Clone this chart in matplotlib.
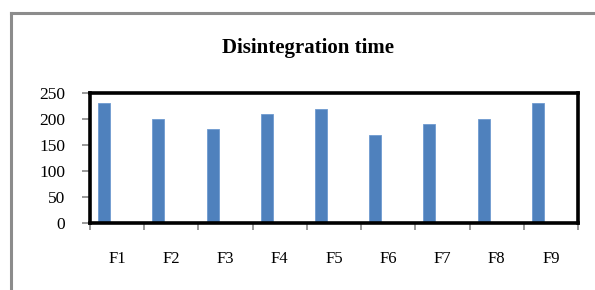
import matplotlib.pyplot as plt
import numpy as np

# formulations and their disintegration times
formulations = ['F1', 'F2', 'F3', 'F4', 'F5', 'F6', 'F7', 'F8', 'F9']
times = [230, 200, 180, 210, 220, 170, 190, 200, 230]
y_ticks = [0, 50, 100, 150, 200, 250]

plt.rcParams['font.family'] = ['Liberation Serif', 'DejaVu Serif']

fig = plt.figure(figsize=(5.95, 2.9), dpi=100)

# grey frame round the chart area (left and top edges are visible)
fig.add_artist(plt.Line2D([11 / 595, 11 / 595], [0, 1 - 13 / 290],
                          color='#8c8c8c', lw=2.2, transform=fig.transFigure))
fig.add_artist(plt.Line2D([11 / 595, 1], [1 - 13 / 290, 1 - 13 / 290],
                          color='#8c8c8c', lw=2.2, transform=fig.transFigure))

ax = fig.add_axes([90 / 595, 1 - 223 / 290, 488 / 595, 130 / 290])

x = np.arange(len(formulations))
ax.bar(x - 0.24, times, width=0.22, color='#4f81bd', edgecolor='#6f9bd0', lw=0.6)

ax.set_xlim(-0.5, len(formulations) - 0.5)
ax.set_ylim(0, 250)
ax.set_yticks(y_ticks)
ax.set_yticklabels([str(v) for v in y_ticks], fontsize=12.5)

# category ticks sit between the bars, labels in the middle
ax.set_xticks(np.arange(len(formulations) + 1) - 0.5)
ax.set_xticklabels([])
ax.set_xticks(x, minor=True)
ax.set_xticklabels(formulations, minor=True, fontsize=12)
ax.tick_params(axis='x', which='minor', length=0, pad=20)
ax.tick_params(axis='x', which='major', direction='out', length=5, color='#888888', width=1.2)
ax.tick_params(axis='y', direction='out', length=6, color='#888888', width=1.2, pad=12)

for side in ['left', 'right', 'top', 'bottom']:
    ax.spines[side].set_color('black')
    ax.spines[side].set_linewidth(2.6)

fig.text(308 / 595, 1 - 48 / 290, 'Disintegration time', ha='center', va='center',
         fontsize=15, fontweight='bold')

fig.savefig('out.png', dpi=100)
